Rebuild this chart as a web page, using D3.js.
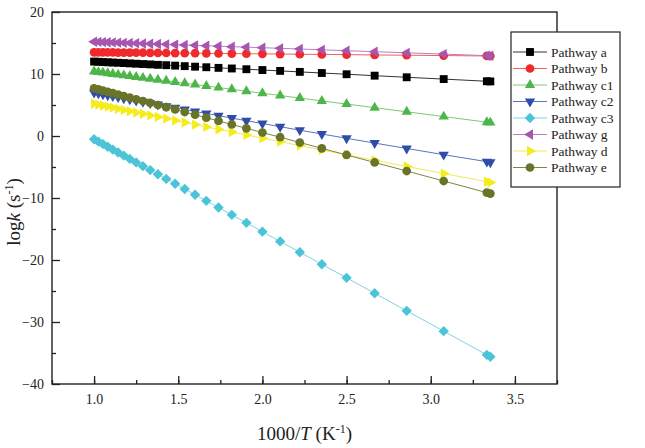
<!DOCTYPE html>
<html>
<head>
<meta charset="utf-8">
<script src="https://cdn.jsdelivr.net/npm/d3@7"></script>
<style>
    body { margin: 0; background: #fff; }
    #chart text { font-family: "Liberation Serif", "Times New Roman", serif; fill: #222; }
</style>
</head>
<body>
<div id="chart"></div>
<script>
// ============================================================================
// Rate constants vs 1000/T for the reaction pathways
// ============================================================================

// 1000/T values (K^-1), T = 1000 ... 300 K and 298.15 K
const invT = [1.0, 1.0256, 1.0526, 1.0811, 1.1111, 1.1429, 1.1765, 1.2121, 1.25, 1.2903,
    1.3333, 1.3793, 1.4286, 1.4815, 1.5385, 1.6, 1.6667, 1.7391, 1.8182, 1.9048,
    2.0, 2.1053, 2.2222, 2.3529, 2.5, 2.6667, 2.8571, 3.0769, 3.3333, 3.354];

// log k (s^-1)
const pathwayA = [12.00, 11.97, 11.93, 11.89, 11.85, 11.81, 11.76, 11.71, 11.66, 11.61,
    11.55, 11.48, 11.42, 11.35, 11.27, 11.18, 11.09, 10.99, 10.89, 10.77,
    10.64, 10.50, 10.34, 10.16, 9.96, 9.73, 9.47, 9.18, 8.83, 8.80];
const pathwayB = [13.50, 13.49, 13.49, 13.48, 13.47, 13.46, 13.45, 13.45, 13.44, 13.43,
    13.42, 13.40, 13.39, 13.38, 13.36, 13.35, 13.33, 13.31, 13.29, 13.27,
    13.25, 13.22, 13.19, 13.16, 13.12, 13.07, 13.03, 12.97, 12.91, 12.90];
const pathwayC1 = [10.40, 10.31, 10.22, 10.12, 10.01, 9.90, 9.78, 9.66, 9.53, 9.38,
    9.23, 9.07, 8.90, 8.71, 8.51, 8.30, 8.07, 7.81, 7.54, 7.23,
    6.90, 6.53, 6.12, 5.66, 5.15, 4.57, 3.90, 3.13, 2.23, 2.16];
const pathwayC2 = [7.00, 6.87, 6.73, 6.58, 6.43, 6.27, 6.09, 5.91, 5.72, 5.52,
    5.30, 5.07, 4.82, 4.55, 4.27, 3.96, 3.63, 3.28, 2.89, 2.47,
    2.01, 1.50, 0.94, 0.32, -0.37, -1.14, -2.01, -3.01, -4.14, -4.23];
const pathwayC3 = [-0.53, -0.91, -1.31, -1.74, -2.19, -2.66, -3.16, -3.69, -4.26, -4.86,
    -5.50, -6.18, -6.92, -7.70, -8.55, -9.47, -10.46, -11.54, -12.72, -14.01,
    -15.43, -17.00, -18.74, -20.69, -22.88, -25.36, -28.20, -31.48, -35.30, -35.61];
const pathwayG = [15.20, 15.18, 15.15, 15.12, 15.09, 15.06, 15.03, 15.00, 14.96, 14.92,
    14.88, 14.84, 14.79, 14.74, 14.68, 14.62, 14.56, 14.49, 14.41, 14.33,
    14.24, 14.14, 14.03, 13.90, 13.76, 13.60, 13.42, 13.21, 12.96, 12.94];
const pathwayD = [5.20, 5.05, 4.90, 4.74, 4.57, 4.39, 4.20, 4.00, 3.79, 3.56,
    3.32, 3.07, 2.79, 2.50, 2.18, 1.84, 1.47, 1.07, 0.64, 0.17,
    -0.35, -0.92, -1.55, -2.25, -3.04, -3.92, -4.91, -6.06, -7.37, -7.48];
const pathwayE = [7.70, 7.52, 7.33, 7.13, 6.91, 6.69, 6.45, 6.19, 5.92, 5.64,
    5.33, 5.00, 4.65, 4.28, 3.87, 3.43, 2.95, 2.43, 1.86, 1.24,
    0.56, -0.20, -1.05, -1.99, -3.06, -4.27, -5.65, -7.26, -9.14, -9.29];

const seriesNames = ['Pathway a', 'Pathway b', 'Pathway c1', 'Pathway c2',
    'Pathway c3', 'Pathway g', 'Pathway d', 'Pathway e'];
const seriesValues = [pathwayA, pathwayB, pathwayC1, pathwayC2,
    pathwayC3, pathwayG, pathwayD, pathwayE];

const xTicks = [1.0, 1.5, 2.0, 2.5, 3.0, 3.5];
const yTicks = [-40, -30, -20, -10, 0, 10, 20];

// marker style per series (Origin-like)
const STYLES = [
    { color: '#000000', line: '#333333', shape: 'square' },
    { color: '#f02a2a', line: '#f06060', shape: 'circle' },
    { color: '#4cb648', line: '#7acb72', shape: 'up' },
    { color: '#2f4da8', line: '#5a74bd', shape: 'down' },
    { color: '#4cc4d8', line: '#7fd3e2', shape: 'diamond' },
    { color: '#a656b0', line: '#bb80c3', shape: 'left' },
    { color: '#f4ec1c', line: '#f2ea55', shape: 'right' },
    { color: '#6a7428', line: '#7d8548', shape: 'circle' }
];

function markerPath(shape) {
    if (shape === 'square') return d3.symbol(d3.symbolSquare, 62)();
    if (shape === 'circle') return d3.symbol(d3.symbolCircle, 60)();
    if (shape === 'diamond') return d3.symbol(d3.symbolSquare, 54)();
    return d3.symbol(d3.symbolTriangle, 46)();
}

function markerRotation(shape) {
    return { down: 180, left: -90, right: 90, diamond: 45 }[shape] || 0;
}

const width = 645;
const height = 448;
const margin = { top: 12, right: 88, bottom: 64, left: 52 };
const w = width - margin.left - margin.right;
const h = height - margin.top - margin.bottom;

const svg = d3.select('#chart').append('svg')
    .attr('width', width).attr('height', height);

const g = svg.append('g')
    .attr('transform', `translate(${margin.left},${margin.top})`);

const xScale = d3.scaleLinear().domain([0.75, 3.75]).range([0, w]);
const yScale = d3.scaleLinear().domain([-40, 20]).range([h, 0]);

// Minor ticks
g.append('g')
    .attr('transform', `translate(0,${h})`)
    .call(d3.axisBottom(xScale).tickValues(d3.range(0.75, 3.76, 0.25))
        .tickSizeInner(-4).tickSizeOuter(0).tickFormat(''))
    .call(a => a.select('.domain').remove());
g.append('g')
    .call(d3.axisLeft(yScale).tickValues(d3.range(-35, 20, 10))
        .tickSizeInner(-4).tickSizeOuter(0).tickFormat(''))
    .call(a => a.select('.domain').remove());

// Axes
const xAxis = g.append('g')
    .attr('transform', `translate(0,${h})`)
    .call(d3.axisBottom(xScale).tickValues(xTicks)
        .tickSizeInner(-8).tickSizeOuter(0).tickPadding(10).tickFormat(d3.format('.1f')));
const yAxis = g.append('g')
    .call(d3.axisLeft(yScale).tickValues(yTicks)
        .tickSizeInner(-8).tickSizeOuter(0).tickPadding(8).tickFormat(d3.format('d')));

[xAxis, yAxis].forEach(a => {
    a.select('.domain').remove();
    a.selectAll('text').style('font-size', '14px');
});
g.selectAll('.tick line').attr('stroke', '#222').attr('stroke-width', 1.3);

// Frame
g.append('rect')
    .attr('x', 0).attr('y', 0)
    .attr('width', w).attr('height', h)
    .attr('fill', 'none')
    .attr('stroke', '#222')
    .attr('stroke-width', 1.4);

// Series
const line = d3.line()
    .x(d => xScale(d.x))
    .y(d => yScale(d.y));

seriesNames.forEach((name, i) => {
    const s = STYLES[i];
    const pts = invT.map((x, j) => ({ x, y: seriesValues[i][j] }));
    g.append('path')
        .datum(pts)
        .attr('d', line)
        .attr('fill', 'none')
        .attr('stroke', s.line)
        .attr('stroke-width', 1);
    g.selectAll(null)
        .data(pts)
        .join('path')
        .attr('d', markerPath(s.shape))
        .attr('transform', d => `translate(${xScale(d.x)},${yScale(d.y)}) rotate(${markerRotation(s.shape)})`)
        .attr('fill', s.color);
});

// Legend
const legend = svg.append('g').attr('transform', 'translate(511,32)');
legend.append('rect')
    .attr('width', 109).attr('height', 155)
    .attr('fill', '#fff')
    .attr('stroke', '#222')
    .attr('stroke-width', 1.2);

seriesNames.forEach((name, i) => {
    const s = STYLES[i];
    const ly = 20 + i * 16.5;
    legend.append('line')
        .attr('x1', 2).attr('x2', 36)
        .attr('y1', ly).attr('y2', ly)
        .attr('stroke', s.line).attr('stroke-width', 1);
    legend.append('path')
        .attr('d', markerPath(s.shape))
        .attr('transform', `translate(19,${ly}) rotate(${markerRotation(s.shape)})`)
        .attr('fill', s.color);
    legend.append('text')
        .attr('x', 40).attr('y', ly + 4.5)
        .style('font-size', '13.5px')
        .text(name);
});

// Axis titles
const xTitle = svg.append('text')
    .attr('x', margin.left + w / 2)
    .attr('y', 440)
    .attr('text-anchor', 'middle')
    .style('font-size', '19px');
xTitle.append('tspan').text('1000/');
xTitle.append('tspan').style('font-style', 'italic').text('T');
xTitle.append('tspan').text(' (K');
xTitle.append('tspan').attr('dy', -7).style('font-size', '12px').text('-1');
xTitle.append('tspan').attr('dy', 7).text(')');

const yTitle = svg.append('text')
    .attr('transform', 'translate(20,212) rotate(-90)')
    .attr('text-anchor', 'middle')
    .style('font-size', '19px');
yTitle.append('tspan').text('log');
yTitle.append('tspan').style('font-style', 'italic').text('k');
yTitle.append('tspan').text(' (s');
yTitle.append('tspan').attr('dy', -7).style('font-size', '12px').text('-1');
yTitle.append('tspan').attr('dy', 7).text(')');
</script>
</body>
</html>
